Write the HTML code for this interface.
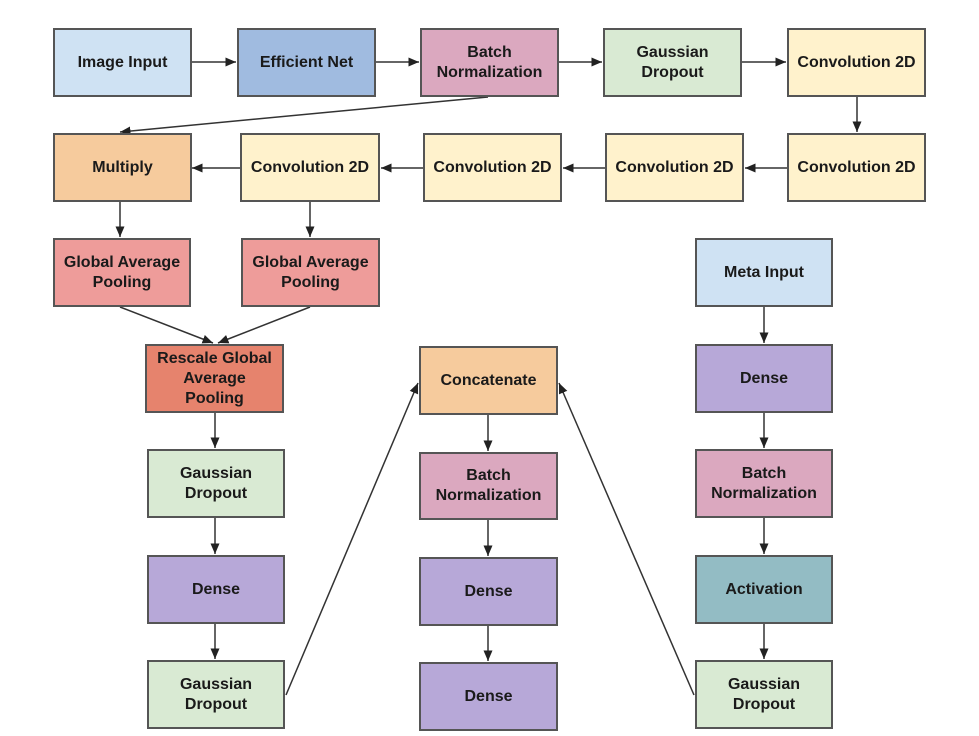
<!DOCTYPE html><html><head><style>
body{margin:0;background:#fff;width:979px;height:736px;position:relative;overflow:hidden;font-family:"Liberation Sans",Arial,sans-serif}
.b{position:absolute;box-sizing:border-box;border:2px solid #555;display:flex;align-items:center;justify-content:center;text-align:center;font-weight:bold;font-size:16px;color:#1a1a1a;line-height:20px}
svg{position:absolute;left:0;top:0}
</style></head><body>
<svg width="979" height="736"><defs><marker id="a" markerWidth="8" markerHeight="8" refX="7" refY="4" orient="auto"><path d="M0,1 L7,4 L0,7z" fill="#222"/></marker></defs>
<g stroke="#333" stroke-width="1.5" marker-end="url(#a)">
<line x1="192" y1="62" x2="236" y2="62"/><line x1="376" y1="62" x2="419" y2="62"/><line x1="559" y1="62" x2="602" y2="62"/><line x1="742" y1="62" x2="786" y2="62"/>
<line x1="857" y1="97" x2="857" y2="132"/>
<line x1="787" y1="168" x2="745" y2="168"/><line x1="605" y1="168" x2="563" y2="168"/><line x1="423" y1="168" x2="381" y2="168"/><line x1="240" y1="168" x2="192" y2="168"/>
<line x1="488" y1="97" x2="120" y2="132"/>
<line x1="120" y1="202" x2="120" y2="237"/><line x1="310" y1="202" x2="310" y2="237"/>
<line x1="120" y1="307" x2="213" y2="343"/><line x1="310" y1="307" x2="218" y2="343"/>
<line x1="215" y1="413" x2="215" y2="448"/><line x1="215" y1="518" x2="215" y2="554"/><line x1="215" y1="624" x2="215" y2="659"/>
<line x1="488" y1="415" x2="488" y2="451"/><line x1="488" y1="520" x2="488" y2="556"/><line x1="488" y1="626" x2="488" y2="661"/>
<line x1="764" y1="307" x2="764" y2="343"/><line x1="764" y1="413" x2="764" y2="448"/><line x1="764" y1="518" x2="764" y2="554"/><line x1="764" y1="624" x2="764" y2="659"/>
<line x1="286" y1="695" x2="418" y2="383"/><line x1="694" y1="695" x2="559" y2="383"/>
</g></svg>
<div class="b" style="left:53px;top:28px;width:139px;height:69px;background:#cfe2f3">Image Input</div>
<div class="b" style="left:237px;top:28px;width:139px;height:69px;background:#a0bbe0">Efficient Net</div>
<div class="b" style="left:420px;top:28px;width:139px;height:69px;background:#dba8bf">Batch<br>Normalization</div>
<div class="b" style="left:603px;top:28px;width:139px;height:69px;background:#d9ead3">Gaussian<br>Dropout</div>
<div class="b" style="left:787px;top:28px;width:139px;height:69px;background:#fff2cc">Convolution 2D</div>
<div class="b" style="left:53px;top:133px;width:139px;height:69px;background:#f6cb9d">Multiply</div>
<div class="b" style="left:240px;top:133px;width:140px;height:69px;background:#fff2cc">Convolution 2D</div>
<div class="b" style="left:423px;top:133px;width:139px;height:69px;background:#fff2cc">Convolution 2D</div>
<div class="b" style="left:605px;top:133px;width:139px;height:69px;background:#fff2cc">Convolution 2D</div>
<div class="b" style="left:787px;top:133px;width:139px;height:69px;background:#fff2cc">Convolution 2D</div>
<div class="b" style="left:53px;top:238px;width:138px;height:69px;background:#ee9c9a">Global Average<br>Pooling</div>
<div class="b" style="left:241px;top:238px;width:139px;height:69px;background:#ee9c9a">Global Average<br>Pooling</div>
<div class="b" style="left:695px;top:238px;width:138px;height:69px;background:#cfe2f3">Meta Input</div>
<div class="b" style="left:145px;top:344px;width:139px;height:69px;background:#e6836d">Rescale Global<br>Average<br>Pooling</div>
<div class="b" style="left:419px;top:346px;width:139px;height:69px;background:#f6cb9d">Concatenate</div>
<div class="b" style="left:695px;top:344px;width:138px;height:69px;background:#b7a8d8">Dense</div>
<div class="b" style="left:147px;top:449px;width:138px;height:69px;background:#d9ead3">Gaussian<br>Dropout</div>
<div class="b" style="left:419px;top:452px;width:139px;height:68px;background:#dba8bf">Batch<br>Normalization</div>
<div class="b" style="left:695px;top:449px;width:138px;height:69px;background:#dba8bf">Batch<br>Normalization</div>
<div class="b" style="left:147px;top:555px;width:138px;height:69px;background:#b7a8d8">Dense</div>
<div class="b" style="left:419px;top:557px;width:139px;height:69px;background:#b7a8d8">Dense</div>
<div class="b" style="left:695px;top:555px;width:138px;height:69px;background:#93bcc4">Activation</div>
<div class="b" style="left:147px;top:660px;width:138px;height:69px;background:#d9ead3">Gaussian<br>Dropout</div>
<div class="b" style="left:419px;top:662px;width:139px;height:69px;background:#b7a8d8">Dense</div>
<div class="b" style="left:695px;top:660px;width:138px;height:69px;background:#d9ead3">Gaussian<br>Dropout</div>
</body></html>
